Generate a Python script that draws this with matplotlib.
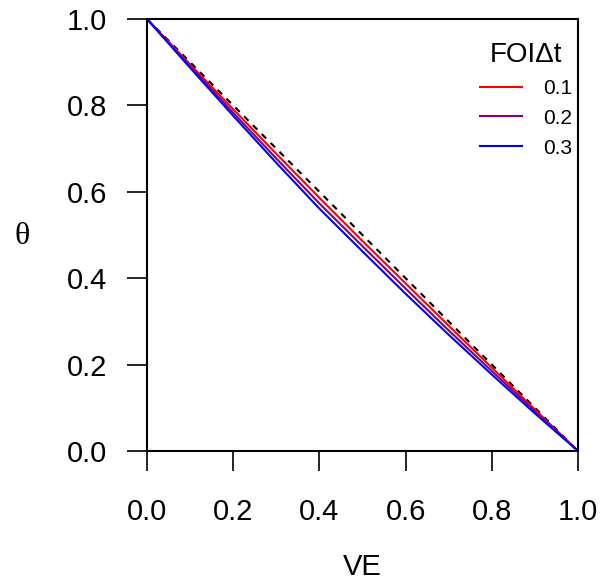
import matplotlib
matplotlib.use("Agg")
import matplotlib.pyplot as plt

ve = [0.0, 0.1, 0.2, 0.3, 0.4, 0.5, 0.6, 0.7, 0.8, 0.9, 1.0]
theta_01 = [1.0, 0.895, 0.791, 0.688, 0.586, 0.486, 0.388, 0.290, 0.193, 0.096, 0.0]
theta_02 = [1.0, 0.891, 0.783, 0.677, 0.573, 0.474, 0.376, 0.279, 0.185, 0.092, 0.0]
theta_03 = [1.0, 0.887, 0.776, 0.667, 0.561, 0.462, 0.364, 0.269, 0.177, 0.087, 0.0]
ref_x = [0.0, 1.0]
ref_y = [1.0, 0.0]
labels = ["0.1", "0.2", "0.3"]
ticks = [0.0, 0.2, 0.4, 0.6, 0.8, 1.0]

plt.rcParams['font.family'] = ['Liberation Sans', 'DejaVu Sans']

fig = plt.figure(figsize=(6.05, 5.87), dpi=100)
ax = fig.add_axes([147/605, 1-451/587, (578-147)/605, (451-19)/587])

ax.plot(ref_x, ref_y, color='black', lw=1.5, ls=(0, (3, 3)))
ax.plot(ve, theta_01, color='#ff0000', lw=1.5, label=labels[0])
ax.plot(ve, theta_02, color='#800080', lw=1.5, label=labels[1])
ax.plot(ve, theta_03, color='#0000ff', lw=1.5, label=labels[2])

ax.set_xlim(0, 1)
ax.set_ylim(0, 1)
ax.set_xticks(ticks)
ax.set_yticks(ticks)
ax.set_xticklabels([f"{t:.1f}" for t in ticks])
ax.set_yticklabels([f"{t:.1f}" for t in ticks])
for s in ax.spines.values():
    s.set_linewidth(1.5)
ax.tick_params(axis='both', direction='out', length=14.5, width=1.2, labelsize=21)
ax.tick_params(axis='x', pad=19)
ax.tick_params(axis='y', pad=14)

ax.set_xlabel("VE", fontsize=21, labelpad=20)
fig.text(22/605, 1-237/587, "θ", fontsize=23, family=['Liberation Serif', 'DejaVu Serif'],
         ha='center', va='center')

leg = ax.legend(loc='upper right', bbox_to_anchor=(1 - 6/431, 1 - 23/432), frameon=False,
                title="FOIΔt", title_fontsize=20, fontsize=15,
                handlelength=2.0, handletextpad=1.0, labelspacing=0.52,
                borderaxespad=0, borderpad=0)

fig.savefig("out.png", dpi=100)
